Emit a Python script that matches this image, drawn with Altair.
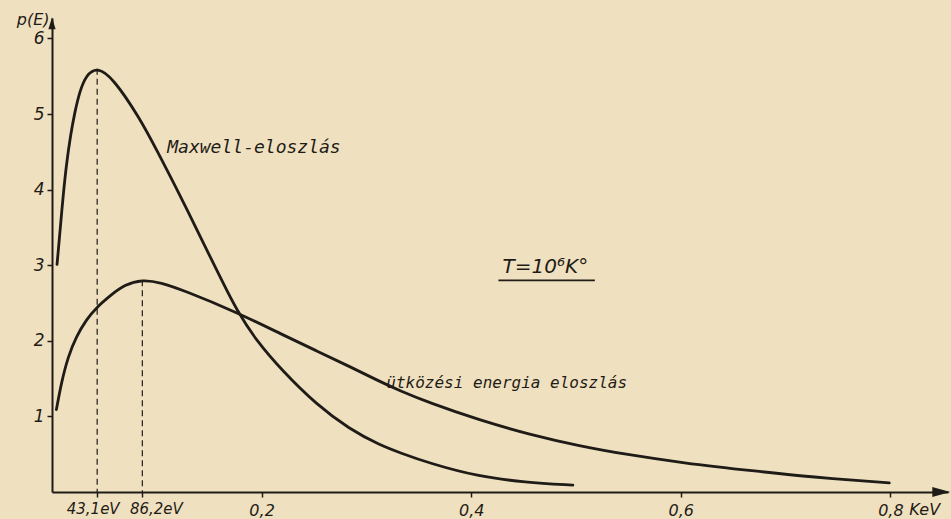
import altair as alt
import pandas as pd

# ---------------- data ----------------
maxwell_E = [0.0048, 0.0074, 0.0105, 0.0137, 0.0178, 0.0217, 0.0264, 0.0328,
             0.0431, 0.058, 0.084, 0.100, 0.122, 0.147, 0.162, 0.176, 0.195,
             0.220, 0.252, 0.284, 0.313, 0.332, 0.360, 0.408, 0.451, 0.497]
maxwell_p = [3.01, 3.41, 3.90, 4.33, 4.73, 5.02, 5.30, 5.52,
             5.62, 5.48, 4.94, 4.52, 3.93, 3.22, 2.80, 2.41, 2.00,
             1.60, 1.16, 0.83, 0.62, 0.52, 0.38, 0.20, 0.13, 0.09]

coll_E = [0.0042, 0.009, 0.0153, 0.0233, 0.0328, 0.0423, 0.0567, 0.069,
          0.0862, 0.104, 0.125, 0.176, 0.220, 0.252, 0.284, 0.313, 0.332,
          0.360, 0.408, 0.456, 0.503, 0.551, 0.599, 0.675, 0.723, 0.799]
coll_p = [1.09, 1.45, 1.79, 2.06, 2.28, 2.44, 2.61, 2.74,
          2.81, 2.77, 2.67, 2.38, 2.08, 1.87, 1.66, 1.46, 1.34,
          1.18, 0.95, 0.76, 0.61, 0.49, 0.39, 0.27, 0.20, 0.12]

peak_E = [0.0431, 0.0862]
peak_p = [5.60, 2.80]
peak_labels = ["43,1eV", "86,2eV"]

x_ticks = [0.2, 0.4, 0.6, 0.8]
y_ticks = [1, 2, 3, 4, 5, 6]
x_unit = "KeV"
y_title = "p(E)"
maxwell_label = "Maxwell-eloszlás"
coll_label = "ütközési energia eloszlás"
temp_label = "T=10⁶K°"

# ---------------- style ----------------
INK = "#1f1b17"
BG = "#efe1c0"
FONT = "DejaVu Sans"
MONO = "DejaVu Sans Mono"

X_DOM = [0, 0.855]
Y_DOM = [0, 6.27]

xs = alt.Scale(domain=X_DOM, nice=False, zero=False)
ys = alt.Scale(domain=Y_DOM, nice=False, zero=False)

x_axis = alt.Axis(
    values=peak_E + x_ticks,
    labelExpr="datum.value < 0.1 ? '' : replace(format(datum.value, '.1f'), '.', ',')",
    grid=False, tickSize=5, tickWidth=1.5, labelPadding=5,
    labelFont=FONT, labelFontSize=16, labelFontStyle="italic",
    labelOverlap=False, labelFlush=False, domainWidth=2, title=None,
)
y_axis = alt.Axis(
    values=y_ticks, format="d", grid=False, tickSize=5, tickWidth=1.5,
    labelPadding=3, labelFont=FONT, labelFontSize=17, labelFontStyle="italic",
    labelOverlap=False, labelFlush=False, domainWidth=2,
    title=y_title, titleAngle=0, titleX=-3, titleY=1, titleAlign="right",
    titleBaseline="middle", titleFont=FONT, titleFontSize=16,
    titleFontStyle="italic", titleFontWeight="normal",
)

X = lambda f: alt.X(f, type="quantitative", scale=xs, axis=x_axis)
Y = lambda f: alt.Y(f, type="quantitative", scale=ys, axis=y_axis)

max_df = pd.DataFrame({"E": maxwell_E, "p": maxwell_p})
col_df = pd.DataFrame({"E": coll_E, "p": coll_p})
peak_df = pd.DataFrame({"E": peak_E, "p": peak_p, "lab": peak_labels})
one = pd.DataFrame({"k": [0]})

line_kw = dict(interpolate="basis", strokeWidth=2.8, color=INK,
               strokeCap="round", strokeJoin="round")

maxwell = alt.Chart(max_df).mark_line(**line_kw).encode(x=X("E"), y=Y("p"))
collision = alt.Chart(col_df).mark_line(**line_kw).encode(x=X("E"), y=Y("p"))

dashes = alt.Chart(peak_df).mark_rule(
    strokeDash=[6, 4], strokeWidth=1.2, color=INK
).encode(x=X("E"), y=Y("p"), y2=alt.datum(0))

label_layers = []
for i, dx in enumerate([-4, 14]):
    label_layers.append(
        alt.Chart(peak_df.iloc[[i]]).mark_text(
            font=FONT, fontSize=15, fontStyle="italic", color=INK,
            baseline="top", align="center", dx=dx, dy=10,
        ).encode(x=X("E"), y=alt.datum(0), text="lab:N")
    )

kev = alt.Chart(one).mark_text(
    font=FONT, fontSize=16, fontStyle="italic", color=INK,
    align="left", baseline="top", dx=19, dy=10,
).encode(x=alt.datum(x_ticks[-1]), y=alt.datum(0), text=alt.value(x_unit))

txt_max = alt.Chart(one).mark_text(
    font=MONO, fontSize=18, fontStyle="italic", color=INK,
    align="left", baseline="middle",
).encode(x=alt.datum(0.110), y=alt.datum(4.55), text=alt.value(maxwell_label))

txt_col = alt.Chart(one).mark_text(
    font=MONO, fontSize=16, fontStyle="italic", color=INK,
    align="left", baseline="middle",
).encode(x=alt.datum(0.319), y=alt.datum(1.44), text=alt.value(coll_label))

txt_T = alt.Chart(one).mark_text(
    font=FONT, fontSize=20, fontStyle="italic", color=INK,
    align="left", baseline="middle",
).encode(x=alt.datum(0.430), y=alt.datum(2.97), text=alt.value(temp_label))

underline = alt.Chart(one).mark_rule(strokeWidth=1.8, color=INK).encode(
    x=alt.datum(0.426), x2=alt.datum(0.518), y=alt.datum(2.80)
)

arrow_up = alt.Chart(one).mark_point(
    shape="M0,-1L0.6,1L-0.6,1Z", filled=True, size=144, color=INK, opacity=1
).encode(x=alt.datum(0), y=alt.datum(6.2))

arrow_right = alt.Chart(one).mark_point(
    shape="M1,0L-1,-0.55L-1,0.55Z", filled=True, size=324, color=INK, opacity=1
).encode(x=alt.datum(0.8486), y=alt.datum(0))

chart = alt.layer(
    dashes, maxwell, collision, *label_layers, kev, txt_max, txt_col, txt_T,
    underline, arrow_up, arrow_right,
).properties(
    width=896, height=474,
    autosize=alt.AutoSizeParams(type="none"),
    padding={"left": 52, "top": 18, "right": 3, "bottom": 27},
    background=BG,
).configure_view(stroke=None).configure_axis(
    domainColor=INK, tickColor=INK, labelColor=INK, titleColor=INK,
)

chart.save("out.html", embed_options={"renderer": "svg", "actions": False})
